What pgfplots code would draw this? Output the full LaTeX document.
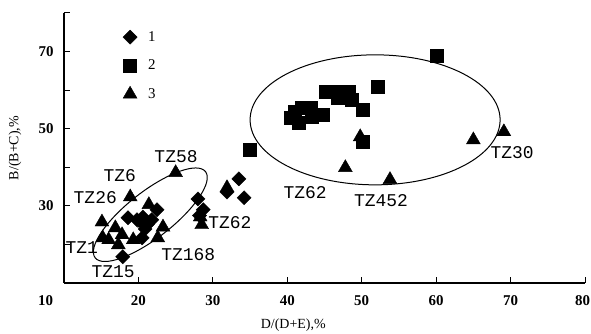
\documentclass[border=0pt]{standalone}
\usepackage{pgfplots}
\pgfplotsset{compat=1.18}
\usepackage{fontspec}
\setmainfont{Liberation Serif}
\newfontfamily\tzfont{Liberation Mono}
\begin{document}
\begin{tikzpicture}
\begin{axis}[
  scale only axis,
  width=521bp, height=270bp,
  xmin=10, xmax=80, ymin=10, ymax=80,
  axis x line=bottom, axis y line=left,
  axis line style={-, line width=1.2bp},
  tick align=inside,
  major tick length=6bp,
  tick style={black, line width=1bp},
  xtick={10,20,...,80},
  xticklabels={\makebox[0pt][r]{10\hspace{11bp}},20,30,40,50,60,70,\makebox[0pt]{80\hspace{5bp}}},
  ytick={20,30,...,80},
  yticklabels={,30,,50,,70,},
  /pgf/number format/assume math mode=true,
  tick label style={font=\bfseries\fontsize{15}{17}\selectfont},
  xticklabel style={anchor=center, yshift=-18bp},
  yticklabel style={anchor=east, xshift=-7bp},
  xlabel={D/(D+E),\%},
  ylabel={B/(B+C),\%},
  label style={font=\fontsize{14}{16}\selectfont},
  xlabel style={at={(axis description cs:0.44,0)}, anchor=center, yshift=-42bp},
  ylabel style={at={(axis description cs:-0.094,0.5)}, anchor=center},
  legend style={draw=none, fill=none, at={(axis cs:17.5,76.3)}, anchor=north west,
    font=\fontsize{15}{17}\selectfont, row sep=13bp},
  legend cell align=left,
  clip=false,
]
% series 1: diamonds
\addplot[only marks, mark=square*, mark size=5bp, mark options={rotate=45, fill=black, draw=black}] coordinates {
 (18.6,26.9) (17.9,16.8) (20.5,21.7) (19.8,26.4) (20.6,27.1) (21.8,26.4)
 (22.5,29.0) (21.2,25.2) (20.9,24.0) (28.0,31.8) (28.7,29.0) (28.2,27.5)
 (33.5,37.0) (34.2,32.1) (31.9,33.6)
};
\addlegendentry{\hspace{9bp}1}
% series 2: squares
\addplot[only marks, mark=square*, mark size=6.5bp, mark options={fill=black, draw=black}] coordinates {
 (35.0,44.5) (60.1,69.0) (52.1,60.9)
 (40.4,52.9) (41.5,51.6) (42.0,55.5) (43.1,55.5) (43.3,53.1) (44.7,53.6)
 (45.1,59.6) (46.4,59.6) (46.8,58.1) (48.2,59.6) (48.7,57.5) (50.1,54.9)
 (50.1,46.6) (41.0,54.5)
};
\addlegendentry{\hspace{9bp}2}
% series 3: triangles
\addplot[only marks, mark=triangle*, mark size=8bp, mark options={fill=black, draw=black}] coordinates {
 (25.0,38.6) (18.9,32.3) (15.1,25.8) (15.2,21.7) (16.0,21.2) (16.9,24.3)
 (17.8,22.5) (17.3,19.9) (19.3,21.2) (21.4,30.3) (22.6,21.7) (23.3,24.5)
 (20.8,25.5) (28.3,27.1) (28.5,25.1) (31.9,34.7)
 (49.8,47.9) (47.8,39.9) (53.8,36.8) (65.0,47.1) (69.1,49.2)
};
\addlegendentry{\hspace{9bp}3}
% ellipses
\draw[line width=1bp] (axis cs:51.8,52.3) ellipse [x radius=125bp, y radius=65bp];
\draw[line width=1bp, rotate around={38:(axis cs:21.6,27.7)}] (axis cs:21.6,27.7) ellipse [x radius=70bp, y radius=23bp];
% labels
\begin{scope}[every node/.style={font=\tzfont\fontsize{18}{20}\selectfont, inner sep=0pt}]
\node at (axis cs:25.05,42.7) {TZ58};
\node at (axis cs:17.5,37.8) {TZ6};
\node at (axis cs:14.2,32.1) {TZ26};
\node at (axis cs:12.4,19.1) {TZ1};
\node at (axis cs:16.6,12.9) {TZ15};
\node at (axis cs:26.7,17.3) {TZ168};
\node at (axis cs:32.3,25.6) {TZ62};
\node at (axis cs:42.4,33.4) {TZ62};
\node at (axis cs:52.6,31.3) {TZ452};
\node at (axis cs:70.2,43.8) {TZ30};
\end{scope}
\end{axis}
\pgfresetboundingbox
\path[use as bounding box] ([shift={(-64bp,-51bp)}]current axis.south west) rectangle ([shift={(6bp,13bp)}]current axis.north east);
\end{tikzpicture}
\end{document}
